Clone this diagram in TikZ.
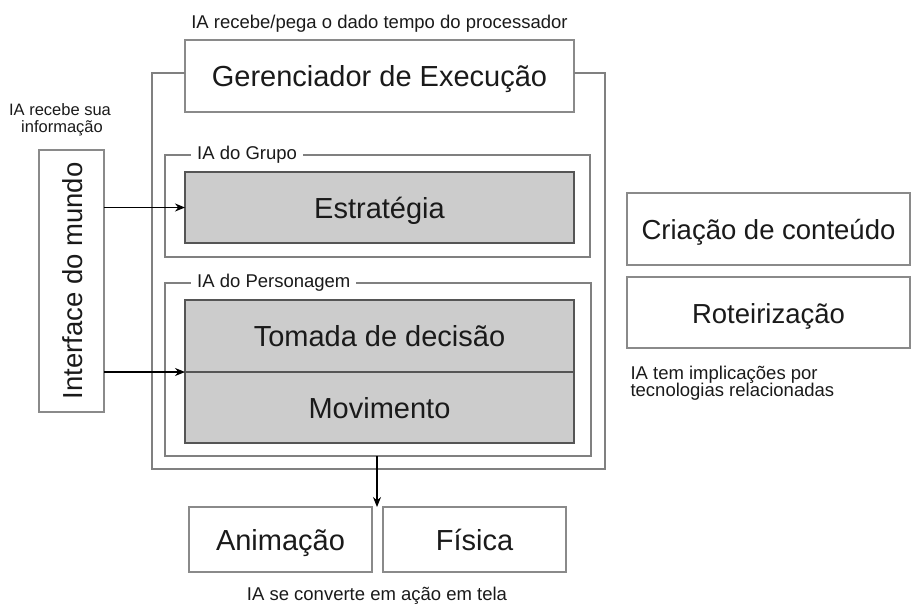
\documentclass[tikz,border=0pt]{standalone}
\usepackage{fontspec}
\setmainfont{Liberation Sans}
\usetikzlibrary{arrows.meta}
\definecolor{framec}{HTML}{808080}
\definecolor{boxc}{HTML}{8A8A8A}
\definecolor{grayfill}{HTML}{CCCCCC}
\definecolor{grayedge}{HTML}{555555}
\definecolor{txt}{HTML}{1A1A1A}
\begin{document}
\begin{tikzpicture}[x=1pt,y=-1pt,
  big/.style={font=\fontsize{29}{31}\selectfont, text=txt, text height=21pt, text depth=0pt},
  small/.style={font=\fontsize{18.5}{18}\selectfont, text=txt},
  wbox/.style={draw=boxc, line width=1.3pt, fill=white, inner sep=0pt, outer sep=0pt, big},
  gbox/.style={draw=grayedge, line width=1.3pt, fill=grayfill, inner sep=0pt, outer sep=0pt, big},
  frame/.style={draw=framec, line width=1.3pt, inner sep=0pt, outer sep=0pt},
  lbl/.style={small, fill=white, inner xsep=6pt, inner ysep=1pt, anchor=west},
  arr/.style={draw=black, line width=1.1pt, -{Stealth[length=10pt,width=8pt]}}]
\useasboundingbox (0,0) rectangle (913,603);

% top caption
\node[small, anchor=base] (capt) at (379.5,28) {IA recebe/pega o dado tempo do processador};

% execution manager and outer frame
\node[wbox, minimum width=389pt, minimum height=72pt] (ger) at (379.5,76) {Gerenciador de Execução};
\draw[frame] ([yshift=3pt]ger.west) -| (152,469) -| (605,73) -- ([yshift=3pt]ger.east);

% group AI
\node[frame, minimum width=425pt, minimum height=102pt] (grp) at (377.5,206) {};
\node[lbl] (grpl) at (191,155) {IA do Grupo};
\node[gbox, minimum width=389pt, minimum height=71pt] (est) at (379.5,207.5) {Estratégia};

% character AI
\node[frame, minimum width=426pt, minimum height=173pt] (per) at (378,369.5) {};
\node[lbl] (perl) at (191,283) {IA do Personagem};
\node[gbox, minimum width=389pt, minimum height=72pt] (tom) at (379.5,336) {Tomada de decisão};
\node[gbox, minimum width=389pt, minimum height=71pt] (mov) at (379.5,407.5) {Movimento};

% world interface
\node[small, font=\fontsize{16.5}{16}\selectfont, anchor=base] (ic1) at (60,115) {IA recebe sua};
\node[small, font=\fontsize{16.5}{16}\selectfont, anchor=base] (ic2) at (62,132) {informação};
\node[wbox, minimum width=65pt, minimum height=262pt] (iface) at (71.5,281) {};
\node[big, font=\fontsize{27.5}{30}\selectfont, rotate=90] (ifacet) at (iface.center) {Interface do mundo};

% arrows
\draw[arr] (iface.east |- est.west) -- (est.west);
\draw[arr] (iface.east |- tom.south west) -- (tom.south west);

% output
\node[wbox, minimum width=183pt, minimum height=65pt] (ani) at (280.5,539.5) {Animação};
\node[wbox, minimum width=183pt, minimum height=65pt] (fis) at (474.5,539.5) {Física};
\coordinate (tip) at (377,507);
\draw[arr] (tip |- per.south) -- (tip);
\node[small, anchor=base] (capb) at (377,600) {IA se converte em ação em tela};

% related technologies
\node[wbox, font=\fontsize{27.5}{30}\selectfont, minimum width=283pt, minimum height=72pt] (cri) at (768.5,229) {Criação de conteúdo};
\node[wbox, font=\fontsize{27.5}{30}\selectfont, minimum width=283pt, minimum height=71pt] (rot) at (768.5,312.5) {Roteirização};
\node[small, anchor=base west] (cr1) at (627,379) {IA tem implicações por};
\node[small, anchor=base west] (cr2) at (627,396) {tecnologias relacionadas};
\end{tikzpicture}
\end{document}
